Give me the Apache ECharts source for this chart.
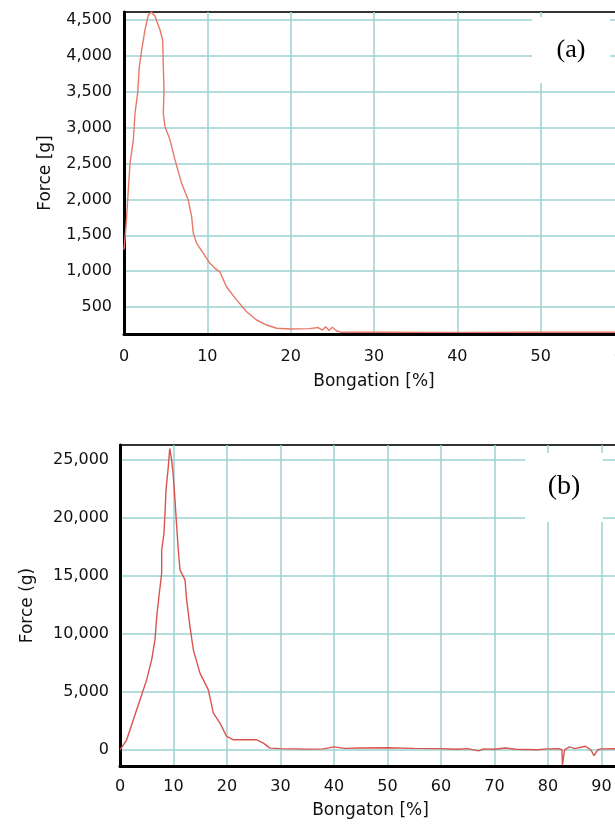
<!DOCTYPE html>
<html>
<head>
<meta charset="utf-8">
<script src="https://cdn.jsdelivr.net/npm/echarts@6/dist/echarts.min.js"></script>
<style>
  html, body { margin: 0; padding: 0; background: #fff; }
  #chart { width: 615px; height: 825px; }
</style>
</head>
<body>
<div id="chart"></div>
<script>
// (a) elongation [%] and force [g]
const elongA = [0, 0.24, 0.44, 0.72, 1.12, 1.32, 1.64, 1.84, 2.12, 2.52,
  2.92, 3.3, 3.72, 4.32, 4.64, 4.72, 4.8, 4.72, 4.92, 5.52,
  6.12, 6.92, 7.71, 8.12, 8.31, 8.71, 9.51, 10.31, 10.91, 11.51,
  12.31, 13.51, 14.71, 15.91, 17.11, 18.31, 20, 22.3, 23.3, 23.8,
  24.2, 24.6, 25, 25.5, 26, 30, 40, 50, 60]
const forceA = [1300, 1620, 1990, 2500, 2830, 3200, 3480, 3850, 4080, 4360,
  4570, 4610, 4550, 4360, 4220, 3850, 3520, 3200, 3010, 2830,
  2550, 2220, 1990, 1760, 1530, 1390, 1250, 1110, 1040, 990,
  780, 600, 435, 320, 250, 205, 195, 200, 215, 180,
  225, 175, 220, 170, 150, 150, 148, 150, 150]

// (b) elongation [%] and force [g]
const elongB = [0, 0.3, 1.25, 2.49, 3.74, 4.98, 5.92, 6.54, 6.86, 7.35,
  7.79, 7.79, 8.22, 8.41, 8.6, 9.03, 9.3, 9.66, 9.97, 10.28,
  10.6, 10.9, 11.21, 12.15, 12.46, 13.08, 13.71, 14.95, 16.51, 17.45,
  18.69, 19.94, 21.2, 25.55, 26.8, 28.04, 30, 35, 38, 40,
  42, 45, 50, 55, 60, 63, 65, 67, 68, 70,
  72, 74, 78, 80, 82, 82.6, 82.7, 83.0, 83.1, 84,
  85, 87, 88, 88.6, 89.3, 90, 95, 100]
const forceB = [0, 50, 860, 2590, 4310, 6030, 7760, 9480, 11490, 13510,
  15230, 17240, 18680, 20400, 22410, 24430, 26000, 25000, 23560, 21550,
  19250, 17240, 15520, 14660, 12930, 10630, 8620, 6610, 5170, 3160,
  2300, 1150, 860, 860, 575, 145, 100, 60, 80, 250,
  120, 150, 180, 120, 100, 50, 100, -100, 80, 50,
  150, 50, 0, 80, 100, 0, -1300, -1300, 0, 250,
  100, 300, 0, -500, 0, 80, 100, 100]

const ticksA = [500, 1000, 1500, 2000, 2500, 3000, 3500, 4000, 4500]
const ticksB = [0, 5000, 10000, 15000, 20000, 25000]

const chart = echarts.init(document.getElementById('chart'))

const labelFont = { fontFamily: 'DejaVu Sans', fontSize: 16, color: '#111' }
const nameFont = { fontFamily: 'DejaVu Sans', fontSize: 17, color: '#111' }
const gridLine = { show: true, lineStyle: { color: '#9dd2d2', width: 1.5 } }
const frameLine = { show: true, onZero: false, lineStyle: { color: '#000', width: 3 } }
const fmt = v => Number(v).toLocaleString('en-US')

const option = {
  backgroundColor: '#fff',
  animation: false,
  grid: [
    { left: 124, top: 12, width: 500, height: 322, outerBoundsMode: 'none', containLabel: false,
      show: true, borderColor: '#333', borderWidth: 2 },
    { left: 120, top: 445, width: 535, height: 321, outerBoundsMode: 'none', containLabel: false,
      show: true, borderColor: '#333', borderWidth: 2 }
  ],
  xAxis: [
    {
      gridIndex: 0, type: 'value', min: 0, max: 60, interval: 10,
      name: 'Bongation [%]', nameLocation: 'middle', nameGap: 39,
      nameTextStyle: nameFont,
      axisLine: frameLine, axisTick: { show: false },
      axisLabel: Object.assign({ margin: 15 }, labelFont),
      splitLine: gridLine
    },
    {
      gridIndex: 1, type: 'value', min: 0, max: 100, interval: 10,
      name: 'Bongaton [%]', nameLocation: 'middle', nameGap: 36,
      nameTextStyle: Object.assign({}, nameFont, { padding: [0, 34, 0, 0] }),
      axisLine: frameLine, axisTick: { show: false },
      axisLabel: Object.assign({ margin: 13 }, labelFont),
      splitLine: gridLine
    }
  ],
  yAxis: [
    {
      gridIndex: 0, type: 'value', min: 125, max: 4610,
      name: 'Force [g]', nameLocation: 'middle', nameGap: 70, nameTextStyle: nameFont,
      axisLine: frameLine,
      axisTick: { show: false, customValues: ticksA },
      axisLabel: Object.assign({ margin: 12, customValues: ticksA, formatter: fmt }, labelFont),
      splitLine: gridLine
    },
    {
      gridIndex: 1, type: 'value', min: -1400, max: 26300,
      name: 'Force (g)', nameLocation: 'middle', nameGap: 84, nameTextStyle: nameFont,
      axisLine: frameLine,
      axisTick: { show: false, customValues: ticksB },
      axisLabel: Object.assign({ margin: 11, customValues: ticksB, formatter: fmt }, labelFont),
      splitLine: gridLine
    }
  ],
  series: [
    {
      type: 'line', xAxisIndex: 0, yAxisIndex: 0, showSymbol: false,
      data: elongA.map((x, i) => [x, forceA[i]]),
      lineStyle: { color: '#e6786a', width: 1.4 }
    },
    {
      type: 'line', xAxisIndex: 1, yAxisIndex: 1, showSymbol: false,
      data: elongB.map((x, i) => [x, forceB[i]]),
      lineStyle: { color: '#d9534f', width: 1.4 }
    }
  ],
  graphic: [
    { type: 'rect', shape: { x: 532, y: 17, width: 78, height: 66 }, style: { fill: '#fff' }, z: 100 },
    { type: 'text', x: 571, y: 50, z: 101,
      style: { text: '(a)', fontFamily: 'Liberation Serif', fontSize: 26, fill: '#000', align: 'center', verticalAlign: 'middle' } },
    { type: 'rect', shape: { x: 525, y: 453, width: 78, height: 69 }, style: { fill: '#fff' }, z: 100 },
    { type: 'text', x: 564, y: 487, z: 101,
      style: { text: '(b)', fontFamily: 'Liberation Serif', fontSize: 28, fill: '#000', align: 'center', verticalAlign: 'middle' } }
  ]
}

chart.setOption(option)
</script>
</body>
</html>
